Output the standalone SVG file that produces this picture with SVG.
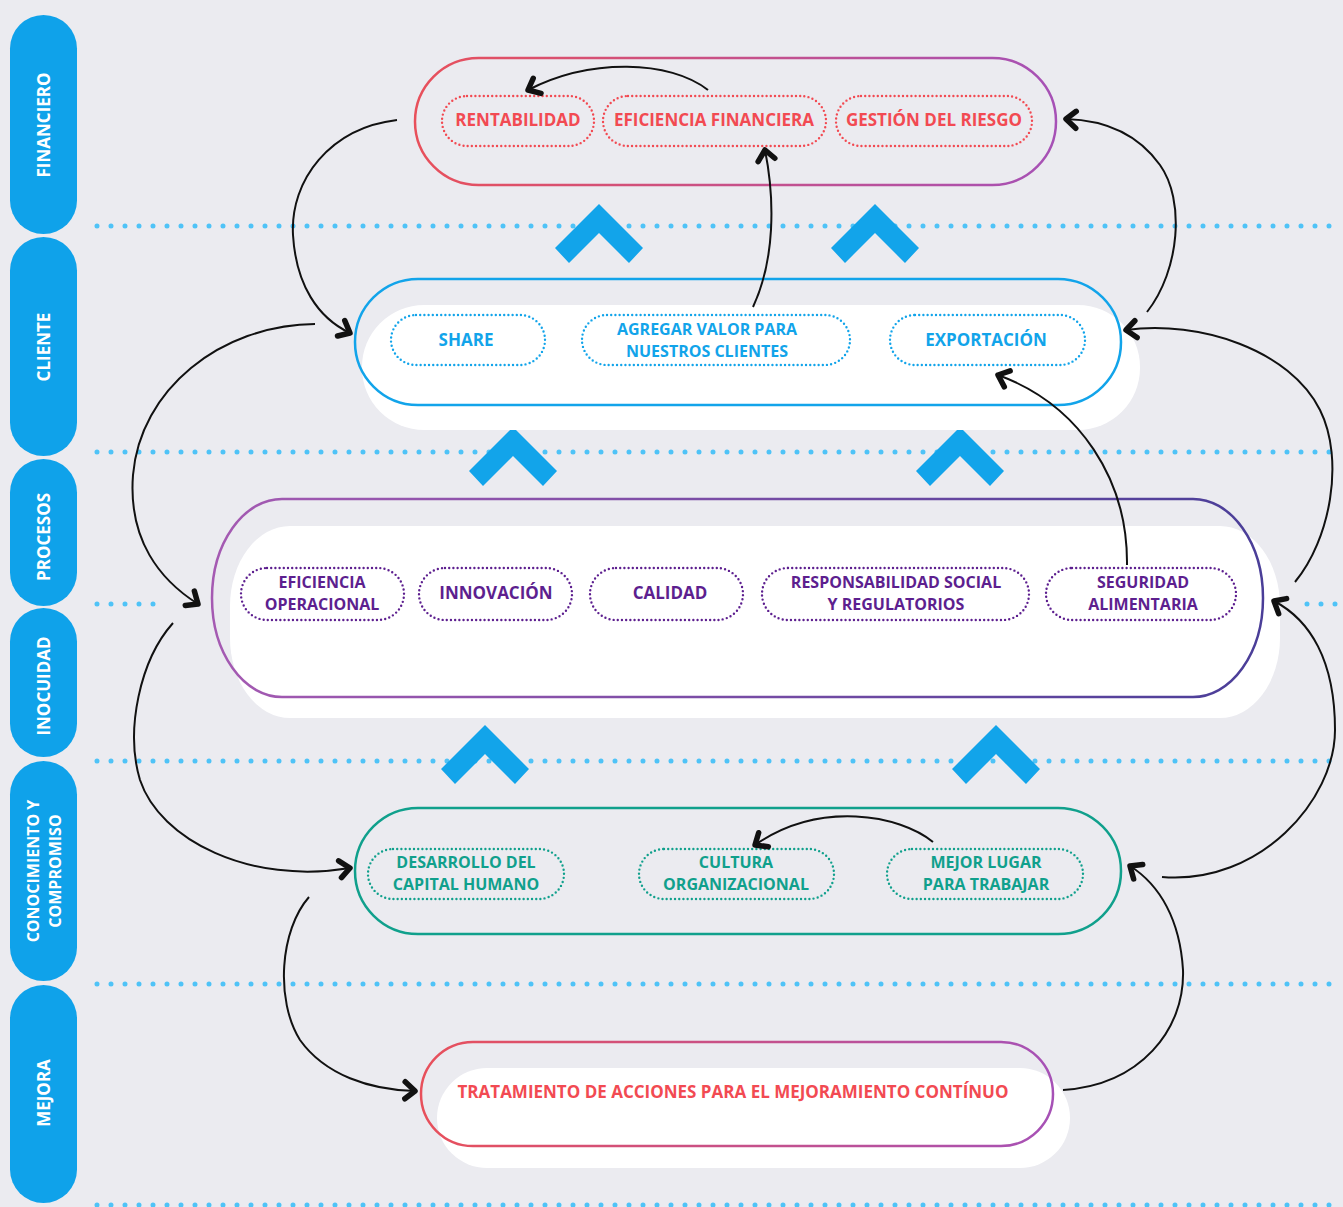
<svg xmlns="http://www.w3.org/2000/svg" width="1343" height="1207" viewBox="0 0 1343 1207">
<defs>
<style>
.tab{fill:#0fa2ea}
.tabt{fill:#fff;font-family:"Open Sans","Liberation Sans",sans-serif;font-weight:700;font-size:17px;text-anchor:middle;dominant-baseline:central}
.tab2{font-size:16px}
.dots{stroke:#4fc3f7;stroke-width:5;stroke-linecap:round;stroke-dasharray:0 14;fill:none}
.chev{fill:#12a4ea}
.t{font-family:"Open Sans","Liberation Sans",sans-serif;font-weight:700;font-size:17px;text-anchor:middle;dominant-baseline:central}
.t2{font-size:16px}
.red{fill:#f24a52}.blue{fill:#12a4ea}.purple{fill:#5d1f8f}.teal{fill:#10a08c}
.pill{fill:none;stroke-width:2.4;stroke-linecap:round;stroke-dasharray:0 4.2}
.conn{fill:none;stroke:#111;stroke-width:2;marker-end:url(#ah)}
.white{fill:#fff}
</style>
<linearGradient id="gRed" x1="0" y1="0" x2="1" y2="0"><stop offset="0" stop-color="#e8505b"/><stop offset="1" stop-color="#a651b6"/></linearGradient>
<linearGradient id="gPur" x1="0" y1="0" x2="1" y2="0"><stop offset="0" stop-color="#a55ab2"/><stop offset="1" stop-color="#4a3e98"/></linearGradient>
<marker id="ah" markerUnits="userSpaceOnUse" viewBox="-18 -14 24 28" refX="0" refY="0" markerWidth="24" markerHeight="28" orient="auto">
<path d="M-10,-9 L0,0 L-10,8" fill="none" stroke="#111" stroke-width="5.5" stroke-linecap="round" stroke-linejoin="round"/>
</marker>
</defs>
<rect width="1343" height="1207" fill="#ebebf0"/>

<g id="separators">
<line class="dots" x1="97" y1="226" x2="1343" y2="226"/>
<line class="dots" x1="97" y1="452" x2="1343" y2="452"/>
<line class="dots" x1="97" y1="604" x2="165" y2="604"/>
<line class="dots" x1="1307" y1="604" x2="1343" y2="604"/>
<line class="dots" x1="97" y1="761" x2="1343" y2="761"/>
<line class="dots" x1="97" y1="984" x2="1343" y2="984"/>
<line class="dots" x1="97" y1="1205" x2="1343" y2="1205"/>
</g>

<g id="tabs">
<g id="tab-financiero"><rect class="tab" x="10" y="15" width="67" height="219" rx="33.5"/><text class="tabt" transform="translate(43,125) rotate(-90)">FINANCIERO</text></g>
<g id="tab-cliente"><rect class="tab" x="10" y="237" width="67" height="219" rx="33.5"/><text class="tabt" transform="translate(43,347) rotate(-90)">CLIENTE</text></g>
<g id="tab-procesos"><rect class="tab" x="10" y="459" width="67" height="147" rx="33.5"/><text class="tabt" transform="translate(43,537) rotate(-90)">PROCESOS</text></g>
<g id="tab-inocuidad"><rect class="tab" x="10" y="608" width="67" height="149" rx="33.5"/><text class="tabt" transform="translate(43,686) rotate(-90)">INOCUIDAD</text></g>
<g id="tab-conocimiento"><rect class="tab" x="10" y="761" width="67" height="220" rx="33.5"/><text class="tabt tab2" transform="translate(33,871) rotate(-90)">CONOCIMIENTO Y<tspan x="0" dy="22">COMPROMISO</tspan></text></g>
<g id="tab-mejora"><rect class="tab" x="10" y="985" width="67" height="218" rx="33.5"/><text class="tabt" transform="translate(43,1093) rotate(-90)">MEJORA</text></g>
</g>

<g id="chevrons">
<polygon class="chev" points="599,204 643,248 629,263 599,233 569,263 555,248"/>
<polygon class="chev" points="875,204 919,248 905,263 875,233 845,263 831,248"/>
<polygon class="chev" points="513,427 557,471 543,486 513,456 483,486 469,471"/>
<polygon class="chev" points="960,427 1004,471 990,486 960,456 930,486 916,471"/>
<polygon class="chev" points="485,725 529,769 515,784 485,754 455,784 441,769"/>
<polygon class="chev" points="996,725 1040,769 1026,784 996,754 966,784 952,769"/>
</g>

<g id="financiero">
<rect x="415" y="58" width="641" height="127" rx="63.5" fill="none" stroke="url(#gRed)" stroke-width="2.5"/>
<rect class="pill" x="442" y="96" width="152" height="50" rx="25" stroke="#f24a52"/>
<text class="t red" x="518" y="119">RENTABILIDAD</text>
<rect class="pill" x="603" y="96" width="223" height="50" rx="25" stroke="#f24a52"/>
<text class="t red" x="714" y="119">EFICIENCIA FINANCIERA</text>
<rect class="pill" x="836" y="96" width="196" height="50" rx="25" stroke="#f24a52"/>
<text class="t red" x="934" y="119">GESTIÓN DEL RIESGO</text>
</g>

<g id="cliente">
<rect class="white" x="362" y="305" width="778" height="125" rx="62"/>
<rect x="355" y="279" width="766" height="126" rx="63" fill="none" stroke="#12a4ea" stroke-width="2.5"/>
<rect class="pill" x="391" y="315" width="154" height="50" rx="25" stroke="#12a4ea"/>
<text class="t blue" x="466" y="339">SHARE</text>
<rect class="pill" x="582" y="315" width="268" height="50" rx="25" stroke="#12a4ea"/>
<text class="t t2 blue" x="707" y="329">AGREGAR VALOR PARA<tspan x="707" dy="22">NUESTROS CLIENTES</tspan></text>
<rect class="pill" x="890" y="315" width="195" height="50" rx="25" stroke="#12a4ea"/>
<text class="t blue" x="986" y="339">EXPORTACIÓN</text>
</g>

<g id="procesos">
<rect class="white" x="230" y="526" width="1050" height="192" rx="60" ry="80"/>
<rect x="212" y="499" width="1051" height="198" rx="70" ry="99" fill="none" stroke="url(#gPur)" stroke-width="2.5"/>
<rect class="pill" x="241" y="568" width="163" height="52" rx="26" stroke="#5d1f8f"/>
<text class="t t2 purple" x="322" y="582">EFICIENCIA<tspan x="322" dy="22">OPERACIONAL</tspan></text>
<rect class="pill" x="419" y="568" width="153" height="52" rx="26" stroke="#5d1f8f"/>
<text class="t purple" x="496" y="592">INNOVACIÓN</text>
<rect class="pill" x="590" y="568" width="153" height="52" rx="26" stroke="#5d1f8f"/>
<text class="t purple" x="670" y="592">CALIDAD</text>
<rect class="pill" x="762" y="568" width="267" height="52" rx="26" stroke="#5d1f8f"/>
<text class="t t2 purple" x="896" y="582">RESPONSABILIDAD SOCIAL<tspan x="896" dy="22">Y REGULATORIOS</tspan></text>
<rect class="pill" x="1046" y="568" width="190" height="52" rx="26" stroke="#5d1f8f"/>
<text class="t t2 purple" x="1143" y="582">SEGURIDAD<tspan x="1143" dy="22">ALIMENTARIA</tspan></text>
</g>

<g id="conocimiento">
<rect x="355" y="808" width="766" height="126" rx="63" fill="none" stroke="#10a08c" stroke-width="2.5"/>
<rect class="pill" x="368" y="849" width="196" height="50" rx="25" stroke="#10a08c"/>
<text class="t t2 teal" x="466" y="862">DESARROLLO DEL<tspan x="466" dy="22">CAPITAL HUMANO</tspan></text>
<rect class="pill" x="639" y="849" width="195" height="50" rx="25" stroke="#10a08c"/>
<text class="t t2 teal" x="736" y="862">CULTURA<tspan x="736" dy="22">ORGANIZACIONAL</tspan></text>
<rect class="pill" x="887" y="849" width="196" height="50" rx="25" stroke="#10a08c"/>
<text class="t t2 teal" x="986" y="862">MEJOR LUGAR<tspan x="986" dy="22">PARA TRABAJAR</tspan></text>
</g>

<g id="mejora">
<rect class="white" x="437" y="1068" width="633" height="100" rx="50"/>
<rect x="421" y="1042" width="632" height="104" rx="52" fill="none" stroke="url(#gRed)" stroke-width="2.5"/>
<text class="t red" x="733" y="1091">TRATAMIENTO DE ACCIONES PARA EL MEJORAMIENTO CONTÍNUO</text>
</g>

<g id="connectors">
<path class="conn" d="M708,90 C670,60 590,58 528,90"/>
<path class="conn" d="M753,307 C775,260 775,200 765,150"/>
<path class="conn" d="M397,120 C330,128 290,180 293,235 C296,285 318,318 350,333"/>
<path class="conn" d="M1147,312 C1180,270 1185,200 1160,165 C1135,130 1100,120 1066,119"/>
<path class="conn" d="M315,324 C220,325 140,390 133,475 C128,540 160,580 198,604"/>
<path class="conn" d="M1295,582 C1330,540 1345,460 1320,410 C1290,350 1200,320 1126,330"/>
<path class="conn" d="M1127,565 C1128,480 1080,405 998,375"/>
<path class="conn" d="M173,623 C140,660 125,730 140,780 C160,840 250,885 350,868"/>
<path class="conn" d="M1162,877 C1260,885 1335,800 1335,730 C1335,660 1310,620 1274,601"/>
<path class="conn" d="M933,842 C900,815 820,800 755,845"/>
<path class="conn" d="M309,897 C280,930 275,1000 300,1040 C325,1075 370,1090 415,1091"/>
<path class="conn" d="M1063,1090 C1140,1085 1185,1030 1183,970 C1180,920 1160,885 1130,866"/>
</g>
</svg>
